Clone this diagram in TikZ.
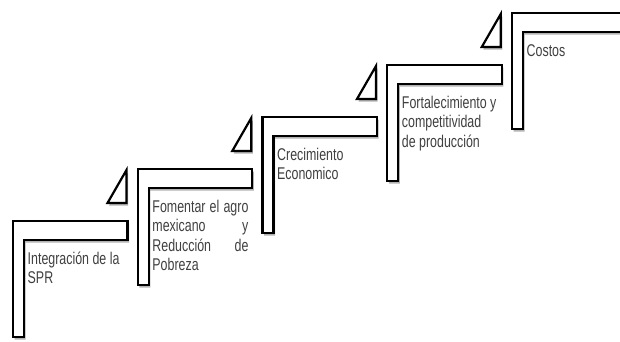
\documentclass[tikz,border=0pt]{standalone}
\usepackage{fontspec}
\setmainfont{Liberation Sans}[FakeStretch=0.73]
\usetikzlibrary{shadows}
\definecolor{txt}{HTML}{404040}
\newcommand\topstrut{\vrule width 0pt height 17pt\relax}
\newcommand\stepfont{\fontsize{17}{19.5}\selectfont}
\newcommand\fillline[1]{\hbox to 96pt{#1}}
\tikzset{
  stepshape/.style={draw=black, line width=2.2pt, fill=white, line join=miter,
    drop shadow={shadow xshift=1.5pt, shadow yshift=-2.5pt, opacity=0.3, fill=black}},
  steptext/.style={anchor=north west, inner sep=0pt, align=left,
    text=txt, font=\stepfont}
}
\begin{document}
\begin{tikzpicture}[x=1pt,y=-1pt]
\useasboundingbox (0,0) rectangle (620,341);
\clip (0,0) rectangle (620,341);
\foreach \i in {0,...,4} {
  \pgfmathsetmacro\X{13+124.75*\i}
  \pgfmathsetmacro\Y{221-52*\i}
  \draw[stepshape] (\X,\Y) -- ++(114.5,0) -- ++(0,19) -- ++(-103.5,0) -- ++(0,97) -- ++(-11,0) -- cycle;
}
\foreach \i in {0,...,3} {
  \pgfmathsetmacro\X{13+124.75*\i}
  \pgfmathsetmacro\Y{221-52*\i}
  \draw[stepshape] (\X+94.5,\Y-18) -- (\X+113.5,\Y-18) -- (\X+113.5,\Y-51) -- cycle;
}
\node[steptext] (t1) at (27.5,247) {\topstrut Integración de la\\SPR};
\node[steptext] (t2) at (152.25,195) {\topstrut\fillline{Fomentar el agro}\\\fillline{mexicano\hfill y}\\\fillline{Reducción\hfill de}\\Pobreza};
\node[steptext] (t3) at (277,143) {\topstrut Crecimiento\\Economico};
\node[steptext] (t4) at (401.75,91) {\topstrut Fortalecimiento y\\competitividad\\de producción};
\node[steptext] (t5) at (526.5,39) {\topstrut Costos};
\end{tikzpicture}
\end{document}
